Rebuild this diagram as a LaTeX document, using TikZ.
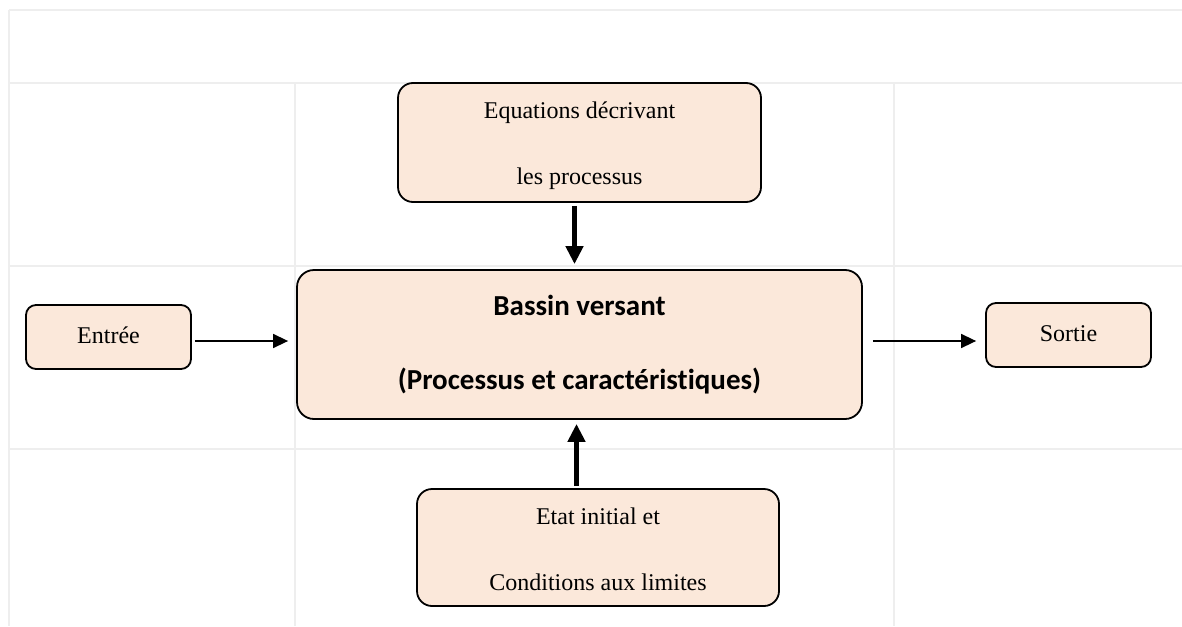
\documentclass[tikz,border=0pt]{standalone}
\usepackage{fontspec}
\setmainfont{Liberation Serif}
\newfontfamily\carlitofont{Carlito}[Ligatures={NoCommon}]
\usetikzlibrary{arrows.meta}
\definecolor{boxfill}{HTML}{FBE8DA}
\definecolor{gridgray}{HTML}{EEEEEE}
\begin{document}
\begin{tikzpicture}[x=1pt,y=-1pt,
  gridline/.style={draw=gridgray,line width=2pt},
  box/.style={draw=black,line width=1.8pt,fill=boxfill,rounded corners=#1,inner sep=0pt,align=center,font=\fontsize{24}{66}\selectfont},
  box/.default=15pt,
  bigarrow/.style={line width=5pt,-{Triangle[width=17pt,length=18pt]}},
  smallarrow/.style={line width=1.5pt,-{Triangle[width=14pt,length=15pt]}}]
\useasboundingbox (0,0) rectangle (1182,626);
% table grid
\draw[gridline] (9,10) -- (1182,10);
\draw[gridline] (9,83) -- (1182,83);
\draw[gridline] (9,266) -- (1182,266);
\draw[gridline] (9,449) -- (1182,449);
\draw[gridline] (9,10) -- (9,626);
\draw[gridline] (295,83) -- (295,626);
\draw[gridline] (894,83) -- (894,626);
% boxes
\node[box, minimum width=363pt, minimum height=119pt] (eq) at (579.5,142.5)
  {\rule{0pt}{24pt}Equations décrivant\\les processus};
\node[box=17pt, minimum width=565pt, minimum height=149pt,
  font=\carlitofont\bfseries\fontsize{29}{74}\selectfont] (main) at (579.5,344.5)
  {Bassin versant\\(Processus et caractéristiques)};
\node[box=10pt, minimum width=165pt, minimum height=64pt] (entree) at (108.5,337)
  {\raisebox{4pt}{Entrée}};
\node[box=10pt, minimum width=165pt, minimum height=64pt] (sortie) at (1068.5,335)
  {\raisebox{3pt}{Sortie}};
\node[box, minimum width=362pt, minimum height=117pt] (etat) at (598,547.5)
  {\rule{0pt}{21pt}Etat initial et\\Conditions aux limites};
% connectors
\draw[bigarrow, shorten <=3pt, shorten >=5pt]
  ([xshift=-5pt]eq.south) -- ([xshift=-5pt]eq.south |- main.north);
\draw[bigarrow, shorten <=2pt, shorten >=4pt]
  ([xshift=-21.5pt]etat.north) -- ([xshift=-21.5pt]etat.north |- main.south);
\draw[smallarrow, shorten <=3pt, shorten >=8pt]
  ([yshift=-4pt]entree.east) -- ([yshift=-4pt]entree.east -| main.west);
\draw[smallarrow, shorten <=10pt, shorten >=9pt]
  ([yshift=-6pt]sortie.west -| main.east) -- ([yshift=-6pt]sortie.west);
\end{tikzpicture}
\end{document}
